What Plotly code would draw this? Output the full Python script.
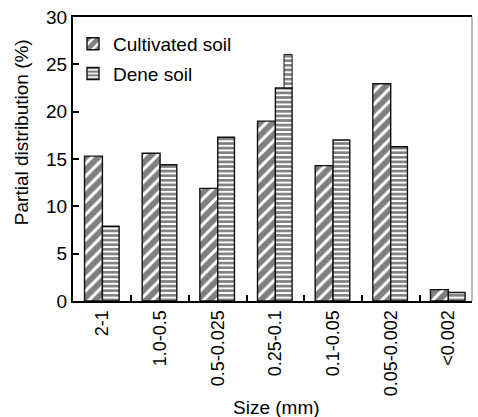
import plotly.graph_objects as go

categories = ["2-1", "1.0-0.5", "0.5-0.025", "0.25-0.1", "0.1-0.05", "0.05-0.002", "<0.002"]
cultivated = [15.3, 15.6, 11.9, 19.0, 14.3, 22.95, 1.2]
dene = [7.9, 14.4, 17.3, 22.5, 17.0, 16.3, 0.9]
# narrow upper segment drawn on the dene bar of the 0.25-0.1 class
dene_ext_cat = ["0.25-0.1"]
dene_ext_base = [22.5]
dene_ext_top = [26.05]
y_ticks = [0, 5, 10, 15, 20, 25, 30]

FONT = "Liberation Sans"

fig = go.Figure()
fig.add_trace(go.Bar(
    x=categories, y=cultivated, name="Cultivated soil",
    width=0.31, offset=-0.31,
    marker=dict(color="white", line=dict(color="#111", width=1.4),
                pattern=dict(shape="/", fgcolor="black", bgcolor="white", size=9, solidity=0.66)),
    legendgroup="a",
))
fig.add_trace(go.Bar(
    x=categories, y=dene, name="Dene soil",
    width=0.29, offset=0.0,
    marker=dict(color="white", line=dict(color="#111", width=1.4),
                pattern=dict(shape="-", fgcolor="black", bgcolor="white", size=4.6, solidity=0.58)),
    legendgroup="b",
))
fig.add_trace(go.Bar(
    x=dene_ext_cat, y=[t - b for t, b in zip(dene_ext_top, dene_ext_base)], base=dene_ext_base,
    width=0.14, offset=0.15, showlegend=False,
    marker=dict(color="white", line=dict(color="#111", width=1.0),
                pattern=dict(shape="-", fgcolor="black", bgcolor="white", size=4.6, solidity=0.58)),
))

fig.update_layout(
    width=478, height=417,
    margin=dict(l=73, r=6, t=17, b=116),
    barmode="overlay",
    plot_bgcolor="white", paper_bgcolor="white",
    font=dict(family=FONT, size=19, color="black"),
    showlegend=True,
    legend=dict(x=0.0, y=0.972, xanchor="left", yanchor="top",
                bgcolor="rgba(0,0,0,0)", font=dict(size=19, family=FONT),
                tracegroupgap=2, itemwidth=30),
    xaxis=dict(
        type="category", categoryorder="array", categoryarray=categories,
        range=[-0.51, 6.41], automargin=False,
        showline=True, linecolor="black", linewidth=2, mirror=True,
        ticks="inside", tickson="boundaries", ticklen=6, tickwidth=2, tickcolor="black",
        tickangle=-90, tickfont=dict(size=18, family=FONT),
        showgrid=False, zeroline=False,
    ),
    yaxis=dict(
        range=[0, 30], tickvals=y_ticks, automargin=False,
        showline=True, linecolor="black", linewidth=2,
        ticks="inside", ticklen=6, tickwidth=2, tickcolor="black",
        tickfont=dict(size=19, family=FONT),
        showgrid=False, zeroline=False,
    ),
    annotations=[
        dict(text="Partial distribution (%)", textangle=-90,
             xref="paper", yref="paper", x=-0.13, y=0.595,
             xanchor="center", yanchor="middle", showarrow=False,
             font=dict(size=19, family=FONT)),
        dict(text="Size (mm)",
             xref="paper", yref="paper", x=0.509, y=-0.375,
             xanchor="center", yanchor="middle", showarrow=False,
             font=dict(size=19, family=FONT)),
    ],
    shapes=[dict(type="line", xref="paper", yref="paper", x0=1, x1=1, y0=0, y1=1,
                 line=dict(color="#777", width=1))],
)

fig.write_html("out.html", config={"displayModeBar": False},
               post_script="document.body.style.margin='0';document.body.style.overflow='hidden';")
